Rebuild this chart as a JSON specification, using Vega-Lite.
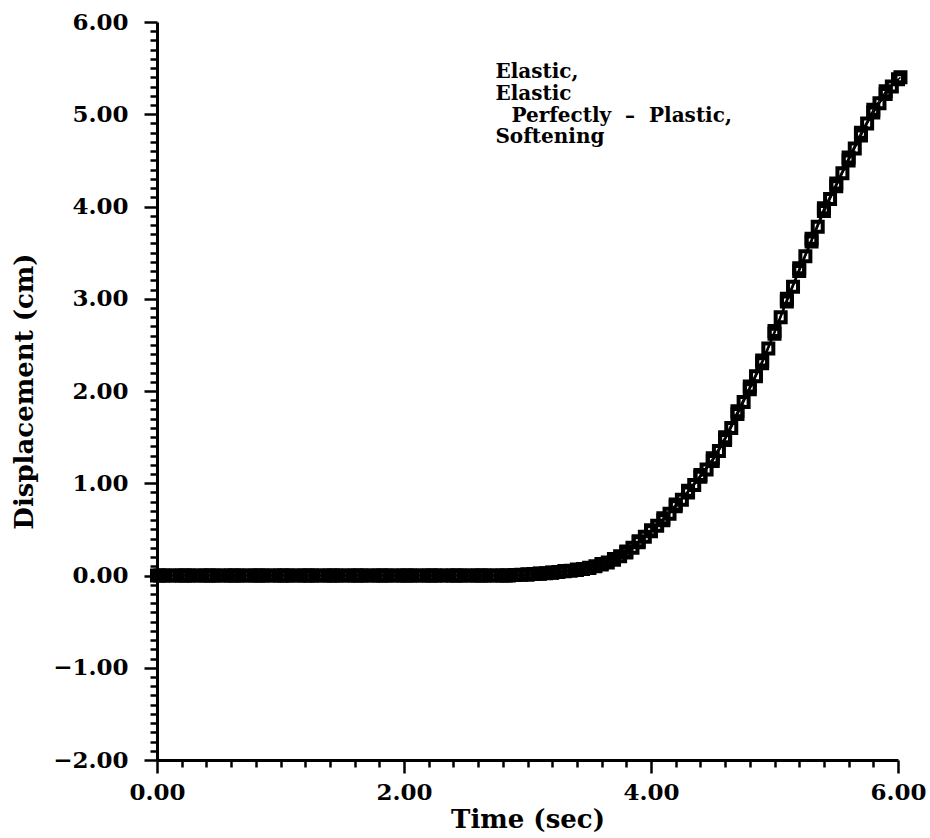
{
  "$schema": "https://vega.github.io/schema/vega-lite/v6.json",
  "autosize": {"type": "none"},
  "padding": {"left": 157, "top": 22, "right": 32, "bottom": 78},
  "width": 741,
  "height": 738,
  "background": "white",
  "config": {"view": {"stroke": null}, "font": "DejaVu Serif"},
  "data": {"values": [
    {"s":"Elastic","t":0,"d":0},{"s":"Elastic","t":0.1,"d":0},{"s":"Elastic","t":0.2,"d":0},{"s":"Elastic","t":0.3,"d":0},{"s":"Elastic","t":0.4,"d":0},{"s":"Elastic","t":0.5,"d":0},{"s":"Elastic","t":0.6,"d":0},{"s":"Elastic","t":0.7,"d":0},{"s":"Elastic","t":0.8,"d":0},{"s":"Elastic","t":0.9,"d":0},
    {"s":"Elastic","t":1.0,"d":0},{"s":"Elastic","t":1.1,"d":0},{"s":"Elastic","t":1.2,"d":0},{"s":"Elastic","t":1.3,"d":0},{"s":"Elastic","t":1.4,"d":0},{"s":"Elastic","t":1.5,"d":0},{"s":"Elastic","t":1.6,"d":0},{"s":"Elastic","t":1.7,"d":0},{"s":"Elastic","t":1.8,"d":0},{"s":"Elastic","t":1.9,"d":0},
    {"s":"Elastic","t":2.0,"d":0},{"s":"Elastic","t":2.1,"d":0},{"s":"Elastic","t":2.2,"d":0},{"s":"Elastic","t":2.3,"d":0},{"s":"Elastic","t":2.4,"d":0},{"s":"Elastic","t":2.5,"d":0},{"s":"Elastic","t":2.6,"d":0},{"s":"Elastic","t":2.7,"d":0},{"s":"Elastic","t":2.8,"d":0},{"s":"Elastic","t":2.9,"d":0.005},
    {"s":"Elastic","t":3.0,"d":0.01},{"s":"Elastic","t":3.1,"d":0.02},{"s":"Elastic","t":3.2,"d":0.03},{"s":"Elastic","t":3.3,"d":0.045},{"s":"Elastic","t":3.4,"d":0.06},{"s":"Elastic","t":3.5,"d":0.08},{"s":"Elastic","t":3.6,"d":0.12},{"s":"Elastic","t":3.7,"d":0.17},{"s":"Elastic","t":3.8,"d":0.25},{"s":"Elastic","t":3.9,"d":0.36},
    {"s":"Elastic","t":4.0,"d":0.48},{"s":"Elastic","t":4.1,"d":0.6},{"s":"Elastic","t":4.2,"d":0.75},{"s":"Elastic","t":4.3,"d":0.9},{"s":"Elastic","t":4.4,"d":1.07},{"s":"Elastic","t":4.5,"d":1.24},{"s":"Elastic","t":4.6,"d":1.47},{"s":"Elastic","t":4.7,"d":1.75},{"s":"Elastic","t":4.8,"d":2.02},{"s":"Elastic","t":4.9,"d":2.3},
    {"s":"Elastic","t":5.0,"d":2.62},{"s":"Elastic","t":5.1,"d":2.97},{"s":"Elastic","t":5.2,"d":3.3},{"s":"Elastic","t":5.3,"d":3.62},{"s":"Elastic","t":5.4,"d":3.95},{"s":"Elastic","t":5.5,"d":4.22},{"s":"Elastic","t":5.6,"d":4.5},{"s":"Elastic","t":5.7,"d":4.77},{"s":"Elastic","t":5.8,"d":5.02},{"s":"Elastic","t":5.9,"d":5.22},{"s":"Elastic","t":6.0,"d":5.38},

    {"s":"EPP","t":0.05,"d":0},{"s":"EPP","t":0.15,"d":0},{"s":"EPP","t":0.25,"d":0},{"s":"EPP","t":0.35,"d":0},{"s":"EPP","t":0.45,"d":0},{"s":"EPP","t":0.55,"d":0},{"s":"EPP","t":0.65,"d":0},{"s":"EPP","t":0.75,"d":0},{"s":"EPP","t":0.85,"d":0},{"s":"EPP","t":0.95,"d":0},
    {"s":"EPP","t":1.05,"d":0},{"s":"EPP","t":1.15,"d":0},{"s":"EPP","t":1.25,"d":0},{"s":"EPP","t":1.35,"d":0},{"s":"EPP","t":1.45,"d":0},{"s":"EPP","t":1.55,"d":0},{"s":"EPP","t":1.65,"d":0},{"s":"EPP","t":1.75,"d":0},{"s":"EPP","t":1.85,"d":0},{"s":"EPP","t":1.95,"d":0},
    {"s":"EPP","t":2.05,"d":0},{"s":"EPP","t":2.15,"d":0},{"s":"EPP","t":2.25,"d":0},{"s":"EPP","t":2.35,"d":0},{"s":"EPP","t":2.45,"d":0},{"s":"EPP","t":2.55,"d":0},{"s":"EPP","t":2.65,"d":0},{"s":"EPP","t":2.75,"d":0},{"s":"EPP","t":2.85,"d":0},{"s":"EPP","t":2.95,"d":0.007},
    {"s":"EPP","t":3.05,"d":0.015},{"s":"EPP","t":3.15,"d":0.025},{"s":"EPP","t":3.25,"d":0.037},{"s":"EPP","t":3.35,"d":0.052},{"s":"EPP","t":3.45,"d":0.07},{"s":"EPP","t":3.55,"d":0.1},{"s":"EPP","t":3.65,"d":0.14},{"s":"EPP","t":3.75,"d":0.21},{"s":"EPP","t":3.85,"d":0.3},{"s":"EPP","t":3.95,"d":0.42},
    {"s":"EPP","t":4.05,"d":0.54},{"s":"EPP","t":4.15,"d":0.67},{"s":"EPP","t":4.25,"d":0.82},{"s":"EPP","t":4.35,"d":0.98},{"s":"EPP","t":4.45,"d":1.15},{"s":"EPP","t":4.55,"d":1.35},{"s":"EPP","t":4.65,"d":1.6},{"s":"EPP","t":4.75,"d":1.88},{"s":"EPP","t":4.85,"d":2.16},{"s":"EPP","t":4.95,"d":2.46},
    {"s":"EPP","t":5.05,"d":2.8},{"s":"EPP","t":5.15,"d":3.13},{"s":"EPP","t":5.25,"d":3.46},{"s":"EPP","t":5.35,"d":3.78},{"s":"EPP","t":5.45,"d":4.08},{"s":"EPP","t":5.55,"d":4.36},{"s":"EPP","t":5.65,"d":4.63},{"s":"EPP","t":5.75,"d":4.9},{"s":"EPP","t":5.85,"d":5.12},{"s":"EPP","t":5.95,"d":5.3},

    {"s":"Softening","t":0.025,"d":0},{"s":"Softening","t":0.225,"d":0},{"s":"Softening","t":0.425,"d":0},{"s":"Softening","t":0.625,"d":0},{"s":"Softening","t":0.825,"d":0},{"s":"Softening","t":1.025,"d":0},{"s":"Softening","t":1.225,"d":0},{"s":"Softening","t":1.425,"d":0},{"s":"Softening","t":1.625,"d":0},{"s":"Softening","t":1.825,"d":0},
    {"s":"Softening","t":2.025,"d":0},{"s":"Softening","t":2.225,"d":0},{"s":"Softening","t":2.425,"d":0},{"s":"Softening","t":2.625,"d":0},{"s":"Softening","t":2.825,"d":0},
    {"s":"Softening","t":3.0,"d":0.012},{"s":"Softening","t":3.1,"d":0.022},{"s":"Softening","t":3.2,"d":0.033},{"s":"Softening","t":3.3,"d":0.048},{"s":"Softening","t":3.4,"d":0.065},{"s":"Softening","t":3.5,"d":0.085},{"s":"Softening","t":3.6,"d":0.125},{"s":"Softening","t":3.7,"d":0.18},{"s":"Softening","t":3.8,"d":0.26},{"s":"Softening","t":3.9,"d":0.37},
    {"s":"Softening","t":4.0,"d":0.49},{"s":"Softening","t":4.1,"d":0.62},{"s":"Softening","t":4.2,"d":0.77},{"s":"Softening","t":4.3,"d":0.92},{"s":"Softening","t":4.4,"d":1.09},{"s":"Softening","t":4.5,"d":1.27},{"s":"Softening","t":4.6,"d":1.5},{"s":"Softening","t":4.7,"d":1.78},{"s":"Softening","t":4.8,"d":2.05},{"s":"Softening","t":4.9,"d":2.33},
    {"s":"Softening","t":5.0,"d":2.65},{"s":"Softening","t":5.1,"d":3.0},{"s":"Softening","t":5.2,"d":3.33},{"s":"Softening","t":5.3,"d":3.65},{"s":"Softening","t":5.4,"d":3.98},{"s":"Softening","t":5.5,"d":4.25},{"s":"Softening","t":5.6,"d":4.53},{"s":"Softening","t":5.7,"d":4.8},{"s":"Softening","t":5.8,"d":5.05},{"s":"Softening","t":5.9,"d":5.25},{"s":"Softening","t":6.02,"d":5.4}
  ]},
  "layer": [
    {
      "mark": {"type": "line", "color": "black", "strokeWidth": 1.5},
      "encoding": {
        "x": {"field": "t", "type": "quantitative",
          "scale": {"domain": [0, 6], "nice": false, "zero": false},
          "axis": {
            "values": [0,0.2,0.4,0.6,0.8,1,1.2,1.4,1.6,1.8,2,2.2,2.4,2.6,2.8,3,3.2,3.4,3.6,3.8,4,4.2,4.4,4.6,4.8,5,5.2,5.4,5.6,5.8,6],
            "tickCount": 200,
            "labelExpr": "abs(datum.value/2-round(datum.value/2))<0.001 ? format(datum.value,'.2f') : ''",
            "tickSize": {"condition": {"test": "abs(datum.value/2-round(datum.value/2))<0.001", "value": 13}, "value": 7},
            "grid": false, "domainColor": "black", "domainWidth": 3, "tickColor": "black", "tickWidth": 2.5,
            "labelFont": "DejaVu Serif", "labelFontWeight": "bold", "labelFontSize": 23, "labelColor": "black",
            "labelPadding": 8, "labelOverlap": false, "labelFlush": false,
            "title": "Time  (sec)", "titleFont": "DejaVu Serif", "titleFontWeight": "bold", "titleFontSize": 26, "titleColor": "black",
            "titleY": 67, "titleBaseline": "alphabetic"
          }},
        "y": {"field": "d", "type": "quantitative",
          "scale": {"domain": [-2, 6], "nice": false, "zero": false},
          "axis": {
            "values": [-2,-1.9,-1.8,-1.7,-1.6,-1.5,-1.4,-1.3,-1.2,-1.1,-1,-0.9,-0.8,-0.7,-0.6,-0.5,-0.4,-0.3,-0.2,-0.1,0,0.1,0.2,0.3,0.4,0.5,0.6,0.7,0.8,0.9,1,1.1,1.2,1.3,1.4,1.5,1.6,1.7,1.8,1.9,2,2.1,2.2,2.3,2.4,2.5,2.6,2.7,2.8,2.9,3,3.1,3.2,3.3,3.4,3.5,3.6,3.7,3.8,3.9,4,4.1,4.2,4.3,4.4,4.5,4.6,4.7,4.8,4.9,5,5.1,5.2,5.3,5.4,5.5,5.6,5.7,5.8,5.9,6],
            "tickCount": 200,
            "labelExpr": "abs(datum.value-round(datum.value))<0.001 ? format(datum.value,'.2f') : ''",
            "tickSize": {"condition": {"test": "abs(datum.value-round(datum.value))<0.001", "value": 13}, "value": 7},
            "grid": false, "domainColor": "black", "domainWidth": 3, "tickColor": "black", "tickWidth": 2.5,
            "labelFont": "DejaVu Serif", "labelFontWeight": "bold", "labelFontSize": 23, "labelColor": "black",
            "labelPadding": 16, "labelOverlap": false, "labelFlush": false,
            "title": "Displacement  (cm)", "titleFont": "DejaVu Serif", "titleFontWeight": "bold", "titleFontSize": 26, "titleColor": "black",
            "titleAngle": -90, "titleX": -133, "titleY": 369, "titleAlign": "center", "titleBaseline": "middle"
          }},
        "detail": {"field": "s", "type": "nominal"}
      }
    },
    {
      "mark": {"type": "point", "shape": "square", "filled": false, "color": "black", "strokeWidth": 4, "size": 100, "opacity": 1},
      "encoding": {
        "x": {"field": "t", "type": "quantitative"},
        "y": {"field": "d", "type": "quantitative"},
        "detail": {"field": "s", "type": "nominal"}
      }
    },
    {
      "data": {"values": [{}]},
      "mark": {"type": "text", "align": "left", "baseline": "alphabetic", "font": "DejaVu Serif", "fontWeight": "bold", "fontSize": 20, "color": "black"},
      "encoding": {
        "x": {"datum": 2.74, "type": "quantitative"},
        "y": {"datum": 5.39, "type": "quantitative"},
        "text": {"value": "Elastic,"}
      }
    },
    {
      "data": {"values": [{}]},
      "mark": {"type": "text", "align": "left", "baseline": "alphabetic", "font": "DejaVu Serif", "fontWeight": "bold", "fontSize": 20, "color": "black"},
      "encoding": {
        "x": {"datum": 2.74, "type": "quantitative"},
        "y": {"datum": 5.155, "type": "quantitative"},
        "text": {"value": "Elastic"}
      }
    },
    {
      "data": {"values": [{}]},
      "mark": {"type": "text", "align": "left", "baseline": "alphabetic", "font": "DejaVu Serif", "fontWeight": "bold", "fontSize": 20, "color": "black"},
      "encoding": {
        "x": {"datum": 2.87, "type": "quantitative"},
        "y": {"datum": 4.92, "type": "quantitative"},
        "text": {"value": "Perfectly\u00a0\u00a0\u2013\u00a0\u00a0Plastic,"}
      }
    },
    {
      "data": {"values": [{}]},
      "mark": {"type": "text", "align": "left", "baseline": "alphabetic", "font": "DejaVu Serif", "fontWeight": "bold", "fontSize": 20, "color": "black"},
      "encoding": {
        "x": {"datum": 2.74, "type": "quantitative"},
        "y": {"datum": 4.69, "type": "quantitative"},
        "text": {"value": "Softening"}
      }
    }
  ]
}
